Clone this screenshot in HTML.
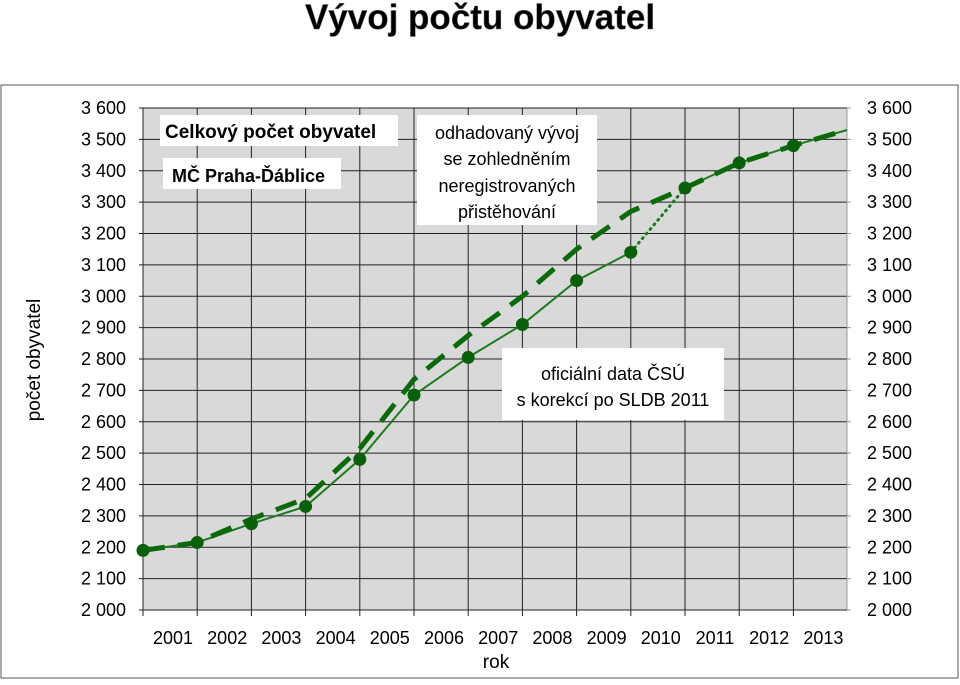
<!DOCTYPE html>
<html><head><meta charset="utf-8"><style>
body{margin:0;background:#fff;width:960px;height:680px;overflow:hidden;font-family:"Liberation Sans",sans-serif}
</style></head><body>
<svg width="960" height="680" xmlns="http://www.w3.org/2000/svg">
<text x="480" y="29" text-anchor="middle" font-family="Liberation Sans" font-weight="bold" font-size="35" fill="#000" stroke="#666" stroke-width="0.5">Vývoj počtu obyvatel</text>
<rect x="1" y="85" width="957" height="593" fill="#fff" stroke="#555" stroke-width="1"/>
<rect x="143" y="108" width="704" height="502" fill="#d9d9d9"/>
<g id="grid"></g>
<g id="axes"></g>
<g id="series"></g>
<text x="40" y="360" transform="rotate(-90 40 360)" text-anchor="middle" font-size="19" fill="#000">počet obyvatel</text>
<text x="496" y="668" text-anchor="middle" font-size="19" fill="#000">rok</text>
<rect x="160" y="115" width="238" height="31" fill="#fff"/>
<text x="165" y="138" font-size="19" font-weight="bold">Celkový počet obyvatel</text>
<rect x="163" y="158" width="178" height="31" fill="#fff"/>
<text x="172" y="182" font-size="18" font-weight="bold">MČ Praha-Ďáblice</text>
<rect x="417" y="115" width="180" height="110" fill="#fff"/>
<g font-size="18" text-anchor="middle">
<text x="507" y="139">odhadovaný vývoj</text><text x="507" y="165">se zohledněním</text>
<text x="507" y="192">neregistrovaných</text><text x="507" y="218">přistěhování</text></g>
<rect x="502" y="348" width="222" height="72" fill="#fff"/>
<g font-size="18" text-anchor="middle">
<text x="613" y="380">oficiální data ČSÚ</text><text x="613" y="406">s korekcí po SLDB 2011</text></g>
</svg>
<script>
const years=["2001","2002","2003","2004","2005","2006","2007","2008","2009","2010","2011","2012","2013"];
const yTicks=[2000,2100,2200,2300,2400,2500,2600,2700,2800,2900,3000,3100,3200,3300,3400,3500,3600];
const official=[2190,2215,2275,2330,2480,2685,2805,2910,3050,3140];
const postCensus=[3345,3425,3480];
const estimate=[2190,2215,2290,2355,2515,2735,2875,3000,3150,3270];
const tailEnd=3530;
const NS="http://www.w3.org/2000/svg";
const L=143,R=847,T=108,B=610,step=54.2;
const x=i=>L+i*step, y=v=>B-(v-2000)/1600*(B-T);
function mk(p,t,a){const e=document.createElementNS(NS,t);for(const k in a)e.setAttribute(k,a[k]);p.appendChild(e);return e;}
const grid=document.getElementById('grid'),axes=document.getElementById('axes'),ser=document.getElementById('series');
yTicks.forEach(v=>{
 const l=mk(grid,'line',{x1:L-4,x2:R,y1:y(v),y2:y(v),stroke:'#222','stroke-width':1});
 
 const r=mk(grid,'line',{x1:R,x2:R+4,y1:y(v),y2:y(v),stroke:'#999'});
 
 const lab=v.toString().replace(/^(\d)(\d{3})$/,'$1 $2');
 const t1=mk(axes,'text',{x:126,y:y(v)+6,'text-anchor':'end','font-size':18});t1.textContent=lab;
 
 const t2=mk(axes,'text',{x:867,y:y(v)+6,'font-size':18});t2.textContent=lab;
 
});
years.forEach((yr,i)=>{
 const l=mk(grid,'line',{x1:x(i),x2:x(i),y1:T,y2:B+6,stroke:'#222','stroke-width':1});
 
 const t=mk(axes,'text',{x:x(i)+30,y:644,'text-anchor':'middle','font-size':18});t.textContent=yr;
 
});
mk(grid,'line',{x1:R,x2:R,y1:T,y2:B,stroke:'#999'});
const pts=a=>a.map(p=>p[0].toFixed(1)+','+p[1].toFixed(1)).join(' ');
const offP=official.map((v,i)=>[x(i),y(v)]);
const postP=postCensus.map((v,i)=>[x(i+9+1),y(v)]);
const s1=mk(ser,'polyline',{points:pts(offP),fill:'none',stroke:'#1e7a1e','stroke-width':2});

const s2=mk(ser,'polyline',{points:pts([offP[offP.length-1],postP[0]]),fill:'none',stroke:'#1e7a1e','stroke-width':3,'stroke-dasharray':'1 5','stroke-linecap':'round'});

const tail=postP.concat([[R,y(tailEnd)]]);
const s3=mk(ser,'polyline',{points:pts(tail),fill:'none',stroke:'#1e7a1e','stroke-width':2});

const estP=estimate.map((v,i)=>[x(i),y(v)]).concat(tail);
const s4=mk(ser,'polyline',{points:pts(estP),fill:'none',stroke:'#0a6a0a','stroke-width':5,'stroke-dasharray':'22 13'});

offP.concat(postP).forEach(p=>{
 const c=mk(ser,'circle',{cx:p[0],cy:p[1],r:6.5,fill:'#0a5f0a'});
 
});
</script>
</body></html>
